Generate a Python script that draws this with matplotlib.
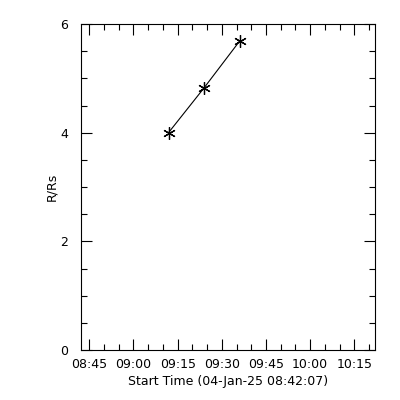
import matplotlib
matplotlib.use("Agg")
import matplotlib.pyplot as plt
from matplotlib.ticker import MultipleLocator, FuncFormatter

times = ["09:11:54", "09:23:54", "09:36:06"]
r_rs = [4.0, 4.82, 5.69]
xlim_times = ["08:42:07", "10:22:00"]
ylim = [0, 6]

def to_min(s):
    h, m, sec = [int(v) for v in s.split(":")]
    return h * 60 + m + sec / 60.0

x = [to_min(t) for t in times]

fig = plt.figure(figsize=(4, 4), dpi=100)
ax = fig.add_axes([0.202, 0.125, 0.7355, 0.815])
ax.plot(x, r_rs, color="black", lw=0.8, marker=(6, 2, 0), ms=9, mew=0.9)
ax.set_xlim(to_min(xlim_times[0]), to_min(xlim_times[1]))
ax.set_ylim(*ylim)

ax.xaxis.set_major_locator(MultipleLocator(15))
ax.xaxis.set_minor_locator(MultipleLocator(5))
ax.yaxis.set_major_locator(MultipleLocator(2))
ax.yaxis.set_minor_locator(MultipleLocator(0.5))
ax.xaxis.set_major_formatter(FuncFormatter(lambda v, p: "%02d:%02d" % (int(round(v)) // 60, int(round(v)) % 60)))
ax.yaxis.set_major_formatter(FuncFormatter(lambda v, p: "%d" % v))
ax.tick_params(which="both", direction="in", top=True, right=True, labelsize=9, width=0.8)
ax.tick_params(which="major", length=8)
ax.tick_params(which="minor", length=4)
ax.tick_params(axis="y", pad=9)
ax.tick_params(axis="x", pad=6)
for s in ax.spines.values():
    s.set_linewidth(0.8)
ax.set_xlabel("Start Time (04-Jan-25 08:42:07)", fontsize=9, labelpad=3)
ax.set_ylabel("R/Rs", fontsize=9)
ax.yaxis.set_label_coords(-0.075, 0.5)
fig.savefig("out.png", dpi=100)
